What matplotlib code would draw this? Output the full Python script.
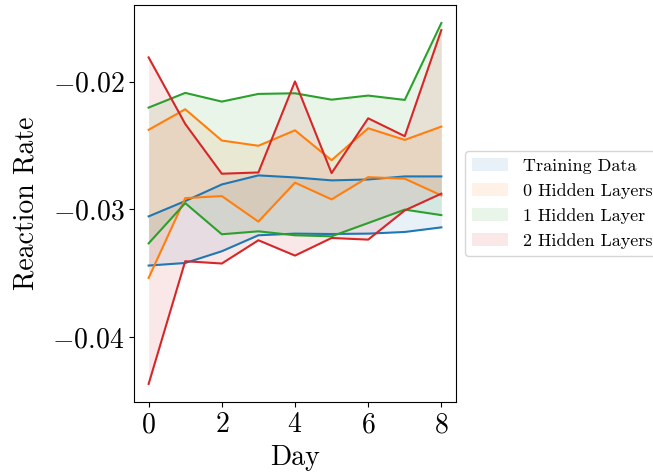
import matplotlib
matplotlib.use("Agg")
import matplotlib.pyplot as plt
import numpy as np

plt.rcParams['font.family'] = 'serif'
plt.rcParams['font.serif'] = ['cmr10']
plt.rcParams['mathtext.fontset'] = 'cm'
plt.rcParams['axes.formatter.use_mathtext'] = True

days = [0, 1, 2, 3, 4, 5, 6, 7, 8]
labels = ["Training Data", "0 Hidden Layers", "1 Hidden Layer", "2 Hidden Layers"]

train_upper = [-0.03055, -0.02935, -0.02805, -0.02734, -0.02750, -0.02773, -0.02766, -0.02742, -0.02742]
train_lower = [-0.03440, -0.03420, -0.03328, -0.03203, -0.03190, -0.03193, -0.03190, -0.03177, -0.03141]
h0_upper = [-0.02377, -0.02216, -0.02461, -0.02502, -0.02381, -0.02615, -0.02365, -0.02456, -0.02352]
h0_lower = [-0.03537, -0.02912, -0.02896, -0.03096, -0.02791, -0.02922, -0.02748, -0.02760, -0.02891]
h1_upper = [-0.02203, -0.02088, -0.02156, -0.02096, -0.02091, -0.02141, -0.02109, -0.02143, -0.01541]
h1_lower = [-0.03266, -0.02951, -0.03195, -0.03172, -0.03203, -0.03211, -0.03107, -0.03002, -0.03045]
h2_upper = [-0.01810, -0.02331, -0.02721, -0.02711, -0.01998, -0.02716, -0.02287, -0.02427, -0.01596]
h2_lower = [-0.04367, -0.03406, -0.03424, -0.03242, -0.03362, -0.03224, -0.03237, -0.03008, -0.02877]

uppers = [train_upper, h0_upper, h1_upper, h2_upper]
lowers = [train_lower, h0_lower, h1_lower, h2_lower]
colors = ['#1f77b4', '#ff7f0e', '#2ca02c', '#d62728']

fig = plt.figure(figsize=(6.53, 4.76), dpi=100)
ax = fig.add_axes([0.2052, 0.1555, 0.4931, 0.834])

for up, lo, c, lab in zip(uppers, lowers, colors, labels):
    ax.fill_between(days, lo, up, color=c, alpha=0.1, label=lab, linewidth=0)
    ax.plot(days, up, color=c, linewidth=1.5)
    ax.plot(days, lo, color=c, linewidth=1.5)

ax.set_xticks([0, 2, 4, 6, 8])
ax.set_yticks([-0.04, -0.03, -0.02])
ax.tick_params(labelsize=20)
ax.set_xlabel("Day", fontsize=20, labelpad=5)
ax.set_ylabel("Reaction Rate", fontsize=20, labelpad=9)
ax.legend(loc='center left', bbox_to_anchor=(1.0, 0.5), fontsize=13)

fig.savefig("out.png", dpi=100)
